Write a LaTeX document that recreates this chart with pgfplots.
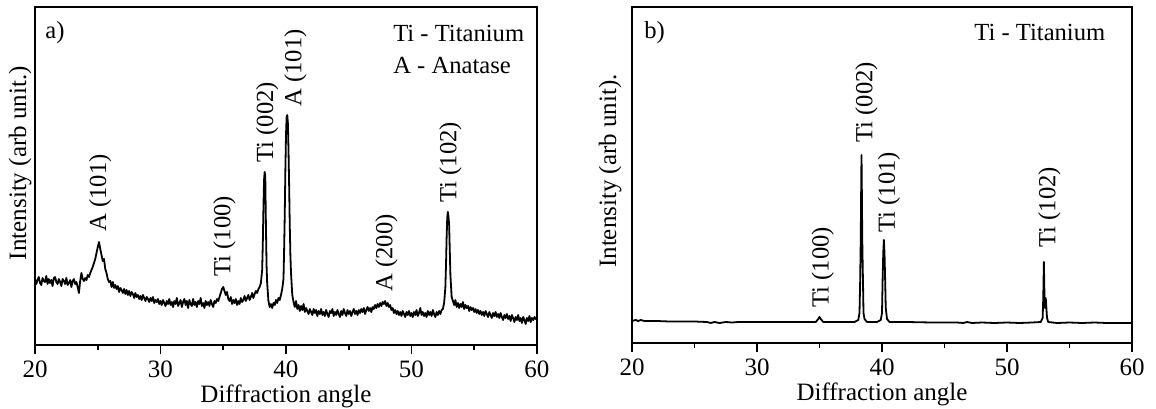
\documentclass[border=0pt]{standalone}
\usepackage{fontspec}
\setmainfont{Liberation Serif}
\usepackage{pgfplots}
\pgfplotsset{compat=1.18}

% XRD pattern, anatase coated Ti (panel a)
\pgfplotstableread{
x y
20.0 66
20.1 61
20.2 65
20.3 68
20.4 62
20.5 60
20.6 67
20.7 64
20.8 63
20.9 69
21.0 61
21.1 66
21.2 62
21.3 65
21.4 59
21.5 67
21.6 68
21.7 63
21.8 61
21.9 66
22.0 63
22.1 59
22.2 66
22.3 64
22.4 61
22.5 67
22.6 60
22.7 62
22.8 65
22.9 58
23.0 64
23.1 66
23.2 61
23.3 63
23.4 58
23.5 52
23.6 64
23.7 72
23.8 66
23.9 64
24.0 67
24.1 65
24.2 70
24.3 68
24.4 72
24.5 75
24.6 78
24.7 82
24.8 86
24.9 92
25.0 98
25.1 103
25.2 96
25.3 90
25.4 84
25.5 86
25.6 76
25.7 72
25.8 66
25.9 63
26.0 64
26.1 58
26.2 63
26.3 57
26.4 60
26.5 56
26.6 59
26.7 53
26.8 57
26.9 55
27.0 52
27.1 56
27.2 51
27.3 55
27.4 50
27.5 54
27.6 49
27.7 53
27.8 51
27.9 47
28.0 52
28.1 48
28.2 50
28.3 46
28.4 49
28.5 45
28.6 50
28.7 47
28.8 44
28.9 48
29.0 46
29.1 43
29.2 47
29.3 44
29.4 48
29.5 42
29.6 45
29.7 43
29.8 46
29.9 41
30.0 44
30.1 40
30.2 45
30.3 42
30.4 39
30.5 44
30.6 41
30.7 46
30.8 40
30.9 43
31.0 38
31.1 44
31.2 41
31.3 47
31.4 39
31.5 42
31.6 45
31.7 38
31.8 43
31.9 46
32.0 40
32.1 44
32.2 37
32.3 45
32.4 41
32.5 39
32.6 46
32.7 40
32.8 43
32.9 38
33.0 44
33.1 41
33.2 47
33.3 39
33.4 42
33.5 37
33.6 44
33.7 40
33.8 43
33.9 39
34.0 45
34.1 41
34.2 38
34.3 44
34.4 42
34.5 46
34.6 44
34.7 48
34.8 52
34.9 56
35.0 58
35.1 54
35.2 50
35.3 53
35.4 46
35.5 44
35.6 48
35.7 41
35.8 45
35.9 42
36.0 46
36.1 40
36.2 44
36.3 41
36.4 47
36.5 43
36.6 45
36.7 49
36.8 44
36.9 47
37.0 50
37.1 45
37.2 48
37.3 52
37.4 47
37.5 51
37.6 54
37.7 52
37.8 56
37.9 58
38.0 62
38.1 75
38.15 100
38.2 135
38.25 165
38.3 173
38.35 168
38.4 120
38.45 80
38.5 62
38.6 44
38.7 38
38.8 41
38.9 37
39.0 42
39.1 40
39.2 45
39.3 42
39.4 47
39.5 45
39.6 50
39.7 56
39.8 66
39.85 95
39.9 130
39.95 175
40.0 210
40.05 228
40.1 230
40.15 222
40.2 195
40.25 160
40.3 120
40.35 90
40.4 72
40.5 50
40.6 43
40.7 38
40.8 44
40.9 36
41.0 40
41.1 34
41.2 39
41.3 35
41.4 41
41.5 33
41.6 37
41.7 34
41.8 31
41.9 36
42.0 33
42.1 30
42.2 36
42.3 32
42.4 35
42.5 29
42.6 34
42.7 31
42.8 36
42.9 30
43.0 33
43.1 29
43.2 35
43.3 31
43.4 28
43.5 34
43.6 32
43.7 36
43.8 29
43.9 33
44.0 30
44.1 35
44.2 31
44.3 28
44.4 34
44.5 30
44.6 36
44.7 32
44.8 29
44.9 35
45.0 31
45.1 34
45.2 29
45.3 33
45.4 36
45.5 31
45.6 34
45.7 30
45.8 35
45.9 32
46.0 36
46.1 33
46.2 37
46.3 31
46.4 35
46.5 38
46.6 34
46.7 37
46.8 33
46.9 38
47.0 36
47.1 40
47.2 37
47.3 41
47.4 38
47.5 42
47.6 39
47.7 43
47.8 41
47.9 44
48.0 39
48.1 42
48.2 38
48.3 40
48.4 35
48.5 37
48.6 32
48.7 35
48.8 31
48.9 34
49.0 30
49.1 33
49.2 29
49.3 34
49.4 31
49.5 28
49.6 33
49.7 30
49.8 34
49.9 29
50.0 32
50.1 28
50.2 33
50.3 30
50.4 35
50.5 29
50.6 32
50.7 37
50.8 30
50.9 33
51.0 29
51.1 32
51.2 28
51.3 34
51.4 30
51.5 33
51.6 29
51.7 35
51.8 31
51.9 28
52.0 33
52.1 30
52.2 34
52.3 31
52.4 35
52.5 36
52.6 42
52.7 58
52.75 80
52.8 108
52.85 128
52.9 133
52.95 128
53.0 120
53.05 95
53.1 70
53.2 48
53.3 44
53.4 40
53.5 45
53.6 38
53.7 42
53.8 37
53.9 41
54.0 38
54.1 43
54.2 36
54.3 40
54.4 37
54.5 39
54.6 34
54.7 38
54.8 35
54.9 37
55.0 33
55.1 36
55.2 32
55.3 35
55.4 31
55.5 34
55.6 30
55.7 33
55.8 29
55.9 34
56.0 31
56.1 28
56.2 33
56.3 30
56.4 27
56.5 32
56.6 29
56.7 33
56.8 28
56.9 31
57.0 27
57.1 32
57.2 28
57.3 25
57.4 30
57.5 27
57.6 31
57.7 26
57.8 29
57.9 24
58.0 30
58.1 27
58.2 23
58.3 28
58.4 25
58.5 30
58.6 24
58.7 27
58.8 22
58.9 28
59.0 25
59.1 21
59.2 27
59.3 24
59.4 29
59.5 23
59.6 27
59.7 25
59.8 28
59.9 26
60.0 27
}\coated

% XRD pattern, bare Ti (panel b)
\pgfplotstableread{
x y
20.0 22
20.3 23
20.5 22
20.7 23
21.0 22
22.0 22
23.0 21.5
24.0 21.5
25.0 21.5
26.0 21
26.3 20
26.6 21
27.0 20
27.5 21
28.0 20.5
28.5 21
29.0 21
30.0 21
31.0 21
32.0 21
33.0 21
34.0 21
34.7 21
34.9 24
35.0 26
35.1 24
35.3 21
36.0 21
37.0 21
37.8 21
38.1 23
38.2 30
38.25 60
38.3 104
38.33 150
38.36 188
38.39 150
38.42 104
38.45 81
38.48 60
38.52 30
38.6 24
38.8 21
39.0 21
39.6 21
39.9 23
40.0 30
40.05 64
40.1 90
40.15 103
40.2 90
40.25 64
40.3 35
40.4 24
40.6 21
42.0 21
44.0 20.5
46.0 20.5
46.5 20
46.8 21
47.2 20
48.0 20.5
49.0 20
50.0 20.5
51.0 20
52.0 20.5
52.7 21
52.85 25
52.9 45
52.95 81
53.0 45
53.05 35
53.1 45
53.15 35
53.2 25
53.3 21
54.0 20
55.0 20.5
56.0 20
57.0 20.5
58.0 20
59.0 20
60.0 20
}\bare

\pgfplotsset{
  xrd/.style={
    scale only axis,
    width=251pt,
    xmin=20, xmax=60, ymin=0,
    xtick={20,30,...,60},
    minor xtick={25,35,45,55},
    ytick=\empty,
    xtick pos=bottom,
    tick align=outside,
    major tick length=4.5pt,
    minor tick length=2.5pt,
    every tick/.style={black, line width=0.8pt},
    axis line style={line width=0.8pt},
    /pgf/number format/assume math mode=true,
    tick label style={font=\fontsize{12.5}{14}\selectfont},
    label style={font=\fontsize{12.5}{14}\selectfont},
    xlabel={Diffraction angle},
    xlabel style={at={(axis description cs:0.5,0)}, anchor=base, yshift=-28.5pt},
    every axis plot post/.append style={black, mark=none, line width=0.9pt, line join=round},
  },
}
\tikzset{
  peak/.style={rotate=90, anchor=west, inner sep=0pt, font=\fontsize{12.3}{14}\selectfont},
  tag/.style={anchor=west, inner sep=0pt, font=\fontsize{12.3}{14}\selectfont},
}

\begin{document}
\begin{tikzpicture}
\useasboundingbox (-17.5pt,-31.5pt) rectangle (560.5pt,172.5pt);

\begin{axis}[xrd, height=169pt, ymax=338, ylabel={Intensity (arb unit.)},
  ylabel style={at={(axis description cs:-0.006,0.538)}, anchor=south, inner sep=0pt}]
\addplot table[x=x, y=y] {\coated};
\node[peak] at (axis cs:25.2,113) {A (101)};
\node[peak] at (axis cs:35.1,68) {Ti (100)};
\node[peak] at (axis cs:38.5,182) {Ti (002)};
\node[peak] at (axis cs:40.75,238) {A (101)};
\node[peak] at (axis cs:48.0,53) {A (200)};
\node[peak] at (axis cs:53.1,142) {Ti (102)};
\node[tag] at (rel axis cs:0.02,0.923) {a)};
\node[tag] at (rel axis cs:0.713,0.923) {Ti - Titanium};
\node[tag] at (rel axis cs:0.713,0.828) {A - Anatase};
\end{axis}

\begin{axis}[xrd, at={(298.5pt,1pt)}, width=250pt, height=168pt, ymax=336,
  ylabel={Intensity (arb unit).},
  ylabel style={at={(axis description cs:-0.02,0.512)}, anchor=south, inner sep=0pt}]
\addplot table[x=x, y=y] {\bare};
\node[peak] at (axis cs:35.25,35) {Ti (100)};
\node[peak] at (axis cs:38.75,200) {Ti (002)};
\node[peak] at (axis cs:40.55,110) {Ti (101)};
\node[peak] at (axis cs:53.4,95) {Ti (102)};
\node[tag] at (rel axis cs:0.024,0.923) {b)};
\node[tag] at (rel axis cs:0.684,0.923) {Ti - Titanium};
\end{axis}
\end{tikzpicture}
\end{document}
